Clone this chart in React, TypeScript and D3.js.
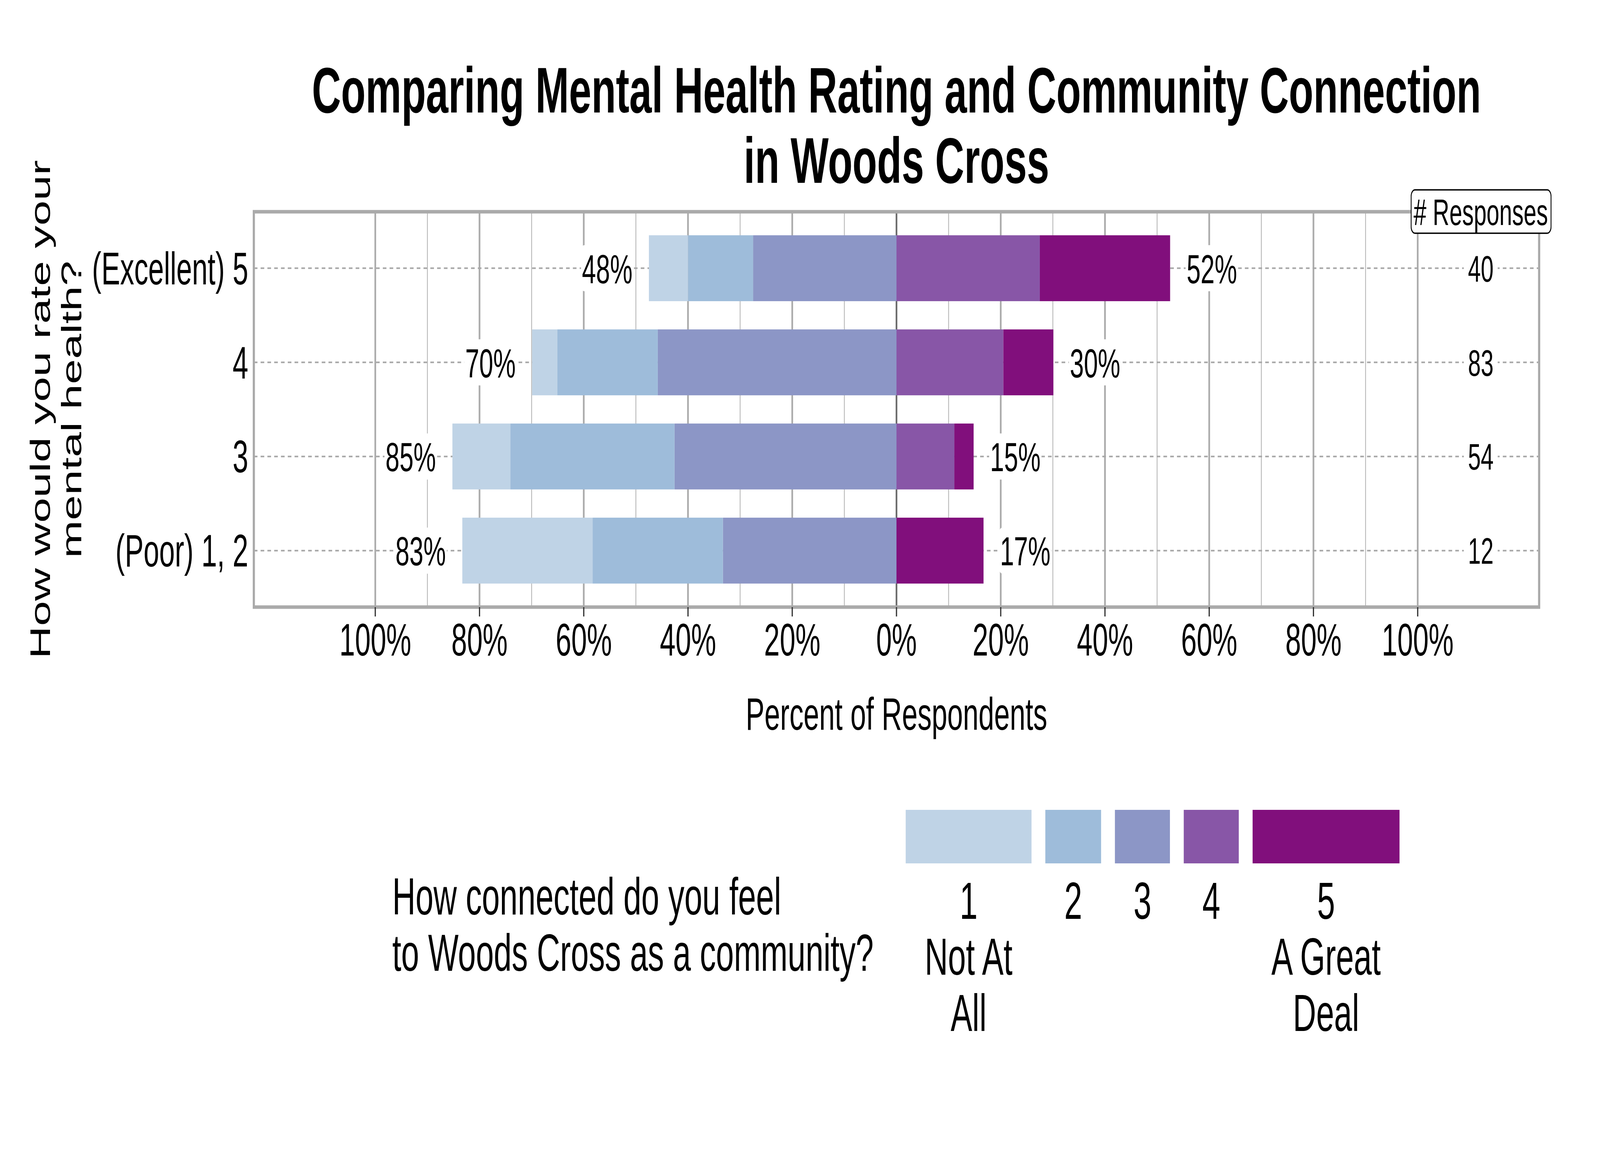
import React, { useEffect } from "react";
import * as d3 from "d3";

// ---- data ----
const ratings = ["(Excellent) 5", "4", "3", "(Poor) 1, 2"];
const responses = [40, 83, 54, 12];
// percent of respondents per connection level (1..5)
const pct1 = [7.5, 4.8, 11.1, 25.0];
const pct2 = [12.5, 19.3, 31.5, 25.0];
const pct3 = [27.5, 45.8, 42.6, 33.3];
const pct4 = [27.5, 20.5, 11.1, 0.0];
const pct5 = [25.0, 9.6, 3.7, 16.7];
const leftLabels = ["48%", "70%", "85%", "83%"];
const rightLabels = ["52%", "30%", "15%", "17%"];
const xTicks = [-1, -0.8, -0.6, -0.4, -0.2, 0, 0.2, 0.4, 0.6, 0.8, 1];
const xTickLabels = ["100%", "80%", "60%", "40%", "20%", "0%", "20%", "40%", "60%", "80%", "100%"];
const minorTicks = [-0.9, -0.7, -0.5, -0.3, -0.1, 0.1, 0.3, 0.5, 0.7, 0.9];
const levels = ["1", "2", "3", "4", "5"];
const levelLabels = [["1", "Not At", "All"], ["2"], ["3"], ["4"], ["5", "A Great", "Deal"]];
const colors = ["#BFD3E6", "#9EBCDA", "#8C96C6", "#8856A7", "#810F7C"];

const FONT = "'Liberation Sans', Arial, Helvetica, sans-serif";

export default function App() {
  useEffect(() => {
    document.body.style.margin = "0";
    document.body.style.overflow = "hidden";
  }, []);

  const W = 6600;
  const H = 3000;
  const x = d3.scaleLinear().domain([-1, 1]).range([1548, 5848]);
  const pad = 1.233;
  const left = x(-pad);
  const right = x(pad);
  const top = 542;
  const bottom = 1554;
  const y = d3
    .scaleBand<string>()
    .domain(ratings)
    .range([top, bottom])
    .paddingInner(0.3)
    .paddingOuter(0.25);
  const bw = y.bandwidth();
  const rowC = (r: string) => (y(r) as number) + bw / 2;

  const series = [pct1, pct2, pct3, pct4, pct5];

  // build segments: 3,2,1 go left from zero; 4,5 go right
  type Seg = { row: string; level: number; x0: number; x1: number };
  const segs: Seg[] = [];
  const leftTot: number[] = [];
  const rightTot: number[] = [];
  ratings.forEach((r, i) => {
    let acc = 0;
    [2, 1, 0].forEach((k) => {
      const v = series[k][i] / 100;
      segs.push({ row: r, level: k, x0: -(acc + v), x1: -acc });
      acc += v;
    });
    leftTot.push(acc);
    let acc2 = 0;
    [3, 4].forEach((k) => {
      const v = series[k][i] / 100;
      segs.push({ row: r, level: k, x0: acc2, x1: acc2 + v });
      acc2 += v;
    });
    rightTot.push(acc2);
  });

  const pctFs = 104;
  const cntFs = 95;
  const axFs = 116;
  const legFs = 133;
  const labelOff = 0.08;
  const pctW = (s: string) => pctFs * (0.556 * (s.length - 1) + 0.889);

  const countX = x(1.121);

  // legend layout
  const keyWidths = [519, 230, 227, 227, 606];
  const keyGap = 57;
  const keyStart = 3736;
  const keyX: number[] = [];
  keyWidths.reduce((acc, w) => {
    keyX.push(acc);
    return acc + w + keyGap;
  }, keyStart);

  return (
    <svg
      viewBox={`0 0 ${W} ${H}`}
      preserveAspectRatio="none"
      style={{ position: "absolute", left: 0, top: 0, display: "block", width: "100vw", height: "100vh", background: "#fff" }}
      fontFamily={FONT}
    >
      <rect x={0} y={0} width={W} height={H} fill="#ffffff" />

      {/* Title */}
      <text x={(left + right) / 2} y={288} textAnchor="middle" fontSize={166} fontWeight="bold" fill="#000">
        Comparing Mental Health Rating and Community Connection
      </text>
      <text x={(left + right) / 2} y={468} textAnchor="middle" fontSize={166} fontWeight="bold" fill="#000">
        in Woods Cross
      </text>

      {/* minor gridlines */}
      {minorTicks.map((t) => (
        <line key={"mi" + t} x1={x(t)} x2={x(t)} y1={top} y2={bottom} stroke="#B8B8B8" strokeWidth={3.5} />
      ))}
      {/* major gridlines */}
      {xTicks
        .filter((t) => t !== 0)
        .map((t) => (
          <line key={"ma" + t} x1={x(t)} x2={x(t)} y1={top} y2={bottom} stroke="#ABABAB" strokeWidth={7} />
        ))}
      {/* zero line */}
      <line x1={x(0)} x2={x(0)} y1={top} y2={bottom} stroke="#6B6B6B" strokeWidth={7} />

      {/* dashed row lines */}
      {ratings.map((r) => (
        <line
          key={"dl" + r}
          x1={left}
          x2={right}
          y1={rowC(r)}
          y2={rowC(r)}
          stroke="#A6A6A6"
          strokeWidth={4}
          strokeDasharray="15 13"
        />
      ))}

      {/* bars */}
      {segs
        .filter((s) => s.x1 - s.x0 > 0)
        .map((s, i) => (
          <rect
            key={"b" + i}
            x={x(s.x0)}
            y={y(s.row) as number}
            width={x(s.x1) - x(s.x0)}
            height={bw}
            fill={colors[s.level]}
          />
        ))}

      {/* percent labels */}
      {ratings.map((r, i) => {
        const cy = rowC(r);
        const lx = x(-leftTot[i] - labelOff);
        const rx = x(rightTot[i] + labelOff);
        const lw = pctW(leftLabels[i]) + 8;
        const rw = pctW(rightLabels[i]) + 8;
        return (
          <g key={"pl" + r}>
            <rect x={lx - lw / 2} y={cy - 59} width={lw} height={118} rx={14} fill="#fff" />
            <text x={lx} y={cy + 38} textAnchor="middle" fontSize={pctFs} fill="#000">
              {leftLabels[i]}
            </text>
            <rect x={rx - rw / 2} y={cy - 59} width={rw} height={118} rx={14} fill="#fff" />
            <text x={rx} y={cy + 38} textAnchor="middle" fontSize={pctFs} fill="#000">
              {rightLabels[i]}
            </text>
          </g>
        );
      })}

      {/* counts */}
      {ratings.map((r, i) => {
        const cy = rowC(r);
        const s = String(responses[i]);
        const w = cntFs * 0.556 * s.length + 34;
        return (
          <g key={"cn" + r}>
            <rect x={countX - w / 2} y={cy - 55} width={w} height={110} rx={14} fill="#fff" />
            <text x={countX} y={cy + 34} textAnchor="middle" fontSize={cntFs} fill="#000">
              {s}
            </text>
          </g>
        );
      })}

      {/* panel border */}
      <rect x={left} y={top} width={right - left} height={bottom - top} fill="none" stroke="#AAAAAA" strokeWidth={9} />

      {/* # Responses label */}
      <rect x={5821} y={486} width={577} height={111} rx={16} fill="#fff" stroke="#000" strokeWidth={3.5} />
      <text x={countX} y={576} textAnchor="middle" fontSize={cntFs} fill="#000">
        # Responses
      </text>

      {/* y tick labels */}
      {ratings.map((r) => (
        <text key={"yl" + r} x={1024} y={rowC(r) + 41} textAnchor="end" fontSize={axFs} fill="#000">
          {r}
        </text>
      ))}

      {/* x ticks */}
      {xTicks.map((t, i) => (
        <g key={"xt" + t}>
          <line x1={x(t)} x2={x(t)} y1={bottom} y2={bottom + 24} stroke="#333333" strokeWidth={5} />
          <text x={x(t)} y={1678} textAnchor="middle" fontSize={axFs} fill="#000">
            {xTickLabels[i]}
          </text>
        </g>
      ))}

      {/* x title */}
      <text x={(left + right) / 2} y={1868} textAnchor="middle" fontSize={axFs} fill="#000">
        Percent of Respondents
      </text>

      {/* y title */}
      <g transform={`translate(206, ${(top + bottom) / 2}) rotate(-90)`}>
        <text x={0} y={0} textAnchor="middle" fontSize={axFs} fill="#000">
          How would you rate your
        </text>
      </g>
      <g transform={`translate(335, ${(top + bottom) / 2}) rotate(-90)`}>
        <text x={0} y={0} textAnchor="middle" fontSize={axFs} fill="#000">
          mental health?
        </text>
      </g>

      {/* legend */}
      <text x={1618} y={2341} fontSize={legFs} fill="#000">
        How connected do you feel
      </text>
      <text x={1618} y={2485} fontSize={legFs} fill="#000">
        to Woods Cross as a community?
      </text>
      {levels.map((lv, i) => (
        <g key={"lg" + lv}>
          <rect x={keyX[i]} y={2073} width={keyWidths[i]} height={137} fill={colors[i]} />
          {levelLabels[i].map((ln, j) => (
            <text
              key={j}
              x={keyX[i] + keyWidths[i] / 2}
              y={2352 + j * 143.5}
              textAnchor="middle"
              fontSize={legFs}
              fill="#000"
            >
              {ln}
            </text>
          ))}
        </g>
      ))}
    </svg>
  );
}
